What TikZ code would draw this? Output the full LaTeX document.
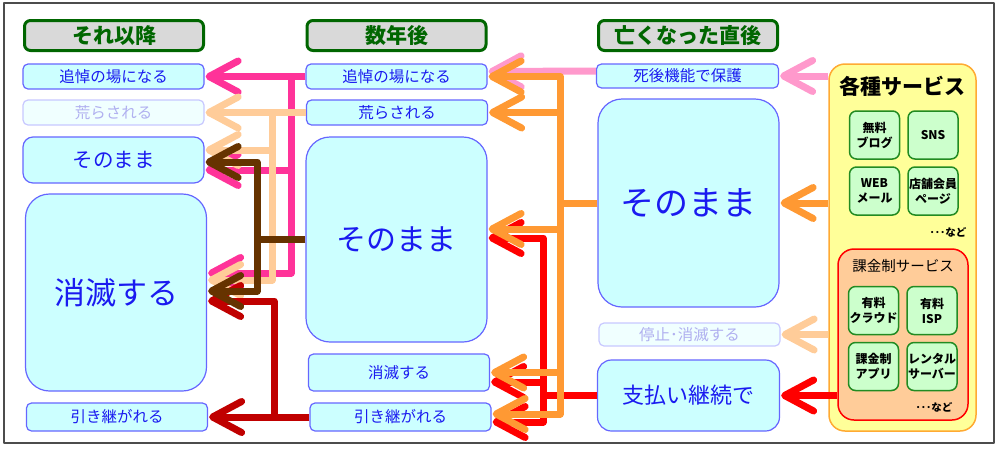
\documentclass[tikz,border=0pt]{standalone}
\usepackage{fontspec}
\setmainfont{Noto Sans CJK JP}
\usetikzlibrary{arrows.meta}

\definecolor{boxFill}{HTML}{CCFFFF}
\definecolor{boxLine}{HTML}{6666FF}
\definecolor{boxText}{HTML}{1A1AF0}
\definecolor{fadeFill}{HTML}{F0FFFF}
\definecolor{fadeLine}{HTML}{C8C8FF}
\definecolor{fadeText}{HTML}{B0B0F0}
\definecolor{headGreen}{HTML}{006600}
\definecolor{headGray}{HTML}{D9D9D9}
\definecolor{svcFill}{HTML}{CCFFCC}
\definecolor{svcLine}{HTML}{228B22}
\definecolor{panelFill}{HTML}{FFFF99}
\definecolor{panelLine}{HTML}{FFAA33}
\definecolor{payFill}{HTML}{FFCC99}
\definecolor{linePink}{HTML}{FF3399}
\definecolor{lineRose}{HTML}{FF99CC}
\definecolor{linePeach}{HTML}{FFCC99}
\definecolor{lineBrown}{HTML}{663300}
\definecolor{lineDarkRed}{HTML}{C00000}
\definecolor{lineOrange}{HTML}{FF9933}
\definecolor{lineRed}{HTML}{FF0000}

\begin{document}
\begin{tikzpicture}[x=1pt, y=-1pt, shorten >=1pt, line join=round,
    >={Straight Barb[length=29pt,width=31pt,round]},
    head/.style={draw=headGreen, fill=headGray, text=headGreen, line width=3pt,
      rounded corners=6pt, minimum width=179pt, minimum height=30pt, inner sep=0pt,
      font=\fontsize{21}{23}\selectfont\bfseries},
    item/.style={draw=boxLine, fill=boxFill, text=boxText, line width=1.2pt,
      rounded corners=5pt, minimum width=181pt, inner sep=0pt,
      font=\fontsize{15.5}{17}\selectfont},
    big/.style={item, rounded corners=24pt},
    faded/.style={item, draw=fadeLine, fill=fadeFill, text=fadeText},
    svc/.style={draw=svcLine, fill=svcFill, line width=1.5pt, rounded corners=7pt,
      minimum width=50pt, minimum height=48pt, inner sep=0pt, align=center,
      font=\fontsize{12}{15}\selectfont\bfseries},
    etc/.style={inner sep=0pt, font=\fontsize{10.5}{12}\selectfont\bfseries},
    wire/.style={line width=7pt}]

    \useasboundingbox (0,0) rectangle (1000,448);
    \draw[line width=1.5pt, black!70] (4,3) rectangle (994,443);

    % headings
    \node [head] (h1) at (114 , 35.5) {それ以降};
    \node [head] (h2) at (396.5 , 35.5) {数年後};
    \node [head] (h3) at (688 , 35.5) {亡くなった直後};

    % column 1
    \node [item, minimum height=25pt] (t1) at (113.5 , 76.5) {追悼の場になる};
    \node [faded, minimum height=25pt] (r1) at (113.5 , 112.5) {荒らされる};
    \node [item, minimum height=46pt, rounded corners=10pt, font=\fontsize{20.5}{22}\selectfont] (s1) at (113.5 , 160) {そのまま};
    \node [big, minimum height=197pt, font=\fontsize{31}{33}\selectfont] (d1) at (116 , 292.5) {消滅する};
    \node [item, minimum height=28pt] (k1) at (117 , 417) {引き継がれる};

    % column 2
    \node [item, minimum height=25pt] (t2) at (396.5 , 76.5) {追悼の場になる};
    \node [item, minimum height=25pt] (r2) at (397 , 112.5) {荒らされる};
    \node [big, minimum height=205pt, font=\fontsize{30}{32}\selectfont] (s2) at (396.5 , 239.5) {そのまま};
    \node [item, minimum height=37pt] (d2) at (399 , 372.5) {消滅する};
    \node [item, minimum height=28pt] (k2) at (400.5 , 417) {引き継がれる};

    % column 3
    \node [item, minimum height=24pt, minimum width=182pt] (p3) at (687.5 , 76) {死後機能で保護};
    \node [big, minimum height=208pt, font=\fontsize{34}{36}\selectfont] (s3) at (688.5 , 203) {そのまま};
    \node [faded, minimum height=23pt] (x3) at (689.5 , 334.5) {停止･消滅する};
    \node [item, minimum height=71pt, minimum width=182pt, rounded corners=14pt, font=\fontsize{22}{24}\selectfont] (q3) at (688.5 , 395.5) {支払い継続で};

    % services
    \node [draw=panelLine, fill=panelFill, line width=1.5pt, rounded corners=16pt,
      minimum width=147pt, minimum height=367pt] (svc) at (902.5 , 247.5) {};
    \node [font=\fontsize{21}{23}\selectfont\bfseries] (svct) at (902.5 , 86) {各種サービス};
    \node [svc] (g1) at (874.5 , 135) {無料\\ブログ};
    \node [svc] (g2) at (933 , 135) {SNS};
    \node [svc] (g3) at (874.5 , 191) {WEB\\メール};
    \node [svc] (g4) at (933 , 191) {店舗会員\\ページ};
    \node [etc] (e1) at (948 , 232) {･･･など};
    \node [draw=lineRed, fill=payFill, line width=1.5pt, rounded corners=16pt,
      minimum width=130pt, minimum height=171pt] (pay) at (903 , 334.5) {};
    \node [font=\fontsize{14.5}{16}\selectfont] (payt) at (903 , 266) {課金制サービス};
    \node [svc] (g5) at (873.5 , 310.5) {有料\\クラウド};
    \node [svc] (g6) at (932 , 310.5) {有料\\ISP};
    \node [svc] (g7) at (873.5 , 366.5) {課金制\\アプリ};
    \node [svc] (g8) at (932 , 366.5) {レンタル\\サーバー};
    \node [etc] (e2) at (934 , 407) {･･･など};

    % bus lines
    \coordinate (pb) at (291 , 0);
    \coordinate (cb) at (272 , 0);
    \coordinate (db) at (274 , 0);
    \coordinate (bb) at (257 , 0);
    \coordinate (rb) at (543 , 0);
    \coordinate (ob) at (560 , 0);

    % services -> just after death
    \draw [wire, lineRose, ->] (p3.east -| svc.west) -- (p3.east);
    \draw [wire, lineOrange, ->] (s3.east -| svc.west) -- (s3.east);
    \draw [wire, linePeach, ->] (x3.east -| svc.west) -- (x3.east);
    \draw [wire, lineRed, ->] (q3.east -| pay.west) -- (q3.east);

    % just after death -> some years later
    \draw [wire, lineRose, ->] ([yshift=5pt]p3.west) -- ([yshift=5pt]t2.east);
    \draw [wire, lineRed, ->] (q3.west) -- (q3.west -| rb) |- ([yshift=1.5pt]s2.east);
    \draw [wire, lineRed, ->] (q3.west) -- (q3.west -| rb) |- ([yshift=-9.5pt]d2.east);
    \draw [wire, lineRed, ->] (q3.west) -- (q3.west -| rb) |- ([yshift=-5pt]k2.east);
    \draw [wire, lineOrange, ->] (s3.west) -- (s3.west -| ob) |- (t2.east);
    \draw [wire, lineOrange, ->] (s3.west) -- (s3.west -| ob) |- (r2.east);
    \draw [wire, lineOrange, ->] (s3.west) -- (s3.west -| ob) |- ([yshift=10.5pt]s2.east);
    \draw [wire, lineOrange, ->] (s3.west) -- (s3.west -| ob) |- (d2.east);
    \draw [wire, lineOrange, ->] (s3.west) -- (s3.west -| ob) |- ([yshift=3pt]k2.east);

    % some years later -> after that
    \draw [wire, linePink, ->] (t2.west) -- (t1.east);
    \draw [wire, linePink, ->] (t2.west) -- (t2.west -| pb) |- ([yshift=-10pt]s1.east);
    \draw [wire, linePink, ->] (t2.west) -- (t2.west -| pb) |- ([yshift=19.5pt]d1.east);
    \draw [wire, linePeach, ->] (r2.west) -- (r1.east);
    \draw [wire, linePeach, ->] (r2.west) -- (r2.west -| cb) |- ([yshift=10pt]s1.east);
    \draw [wire, linePeach, ->] (r2.west) -- (r2.west -| cb) |- ([yshift=12.5pt]d1.east);
    \draw [wire, lineDarkRed, ->] (k2.west) -- (k1.east);
    \draw [wire, lineDarkRed, ->] (k2.west) -- (k2.west -| db) |- ([yshift=-8.5pt]d1.east);
    \draw [wire, lineBrown, ->] (s2.west) -- (s2.west -| bb) |- ([yshift=-2pt]s1.east);
    \draw [wire, lineBrown, ->] (s2.west) -- (s2.west -| bb) |- ([yshift=1.5pt]d1.east);
\end{tikzpicture}
\end{document}
